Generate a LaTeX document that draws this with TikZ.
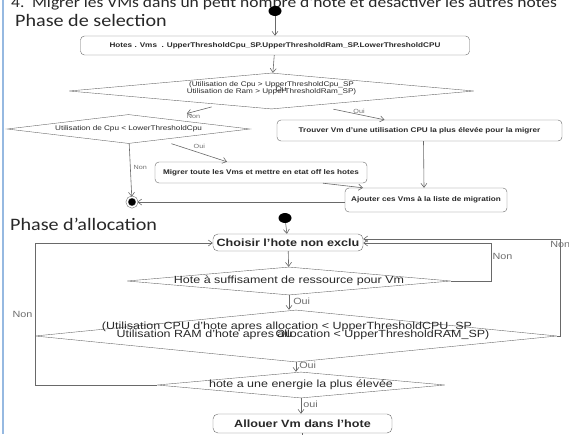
\documentclass[tikz,border=0pt]{standalone}
\usepackage{fontspec}
\setmainfont{Liberation Sans}[FakeStretch=1.2]
\newfontfamily\slidefont{Carlito}[FakeStretch=1.15]
\usetikzlibrary{shapes.geometric, arrows.meta, positioning, calc}

\definecolor{linegray}{RGB}{105,105,105}
\definecolor{textgray}{RGB}{40,40,40}
\definecolor{lblgray}{RGB}{110,110,110}
\definecolor{slideblue}{RGB}{150,185,225}

\begin{document}
\begin{tikzpicture}[
    x=1pt, y=-1pt,
    every node/.style={text=textgray},
    heading/.style={font=\slidefont\fontsize{17.5}{20}\selectfont, anchor=west, inner sep=0pt},
    act/.style={draw=linegray, rounded corners=4pt, inner sep=0pt, font=\bfseries\fontsize{6.8}{8}\selectfont},
    bigact/.style={act, rounded corners=5pt, font=\bfseries\fontsize{10.5}{12}\selectfont},
    decision/.style={draw=linegray, diamond, inner sep=0pt},
    dtext/.style={font=\fontsize{6.8}{6.5}\selectfont, align=center, inner sep=0pt},
    bigdtext/.style={font=\fontsize{10.4}{9}\selectfont, align=center, inner sep=0pt},
    lbl/.style={font=\fontsize{6}{7}\selectfont, text=lblgray, inner sep=1pt},
    biglbl/.style={lbl, font=\fontsize{9}{10}\selectfont},
    start/.style={ellipse, fill=black, inner sep=0pt, minimum width=13pt, minimum height=10pt},
    final/.style={circle, fill=black, draw=linegray, line width=0.5pt, double=white, double distance=1.5pt, inner sep=0pt, minimum size=10pt},
    arr/.style={-{Straight Barb[length=4pt, width=6pt]}, draw=linegray, line width=0.6pt}
  ]
  \useasboundingbox (0,0) rectangle (569,434);
  \clip (0,0) rectangle (569,434);
  \draw[slideblue, line width=1.5pt] (3,0) -- (3,434);

  % titres
  \node[heading, anchor=base west, font=\slidefont\fontsize{15.2}{17}\selectfont] (titre) at (11,7) {4.\enspace Migrer les VMs dans un petit nombre d'hote et désactiver les autres hotes};
  \node[heading] (phase1) at (15,20) {Phase de selection};
  \node[heading] (phase2) at (10,224) {Phase d’allocation};

  % phase de selection
  \node[start] (debut1) at (275,11) {};
  \node[act, minimum width=389pt, minimum height=19pt] (params) at (275,45.5) {Hotes . Vms\ \ . UpperThresholdCpu\_SP.UpperThresholdRam\_SP.LowerThresholdCPU};
  \node[decision, minimum width=405pt, minimum height=36pt,
        label={[dtext, yshift=3pt]center:{(Utilisation de Cpu > UpperThresholdCpu\_SP\\Utilisation de Ram > UpperThresholdRam\_SP)}},
        label={[dtext, xshift=9.5pt, yshift=2pt]center:Ou}] (surcharge) at (271.5,91) {};
  \node[decision, minimum width=243pt, minimum height=29pt,
        label={[dtext]center:Utilisation de Cpu < LowerThresholdCpu}] (souscharge) at (128.5,129) {};
  \node[act, minimum width=285pt, minimum height=21pt] (trouver) at (419.5,130.5) {Trouver Vm d'une utilisation CPU la plus élevée pour la migrer};
  \node[act, minimum width=212pt, minimum height=21pt] (migrer) at (261,172.5) {Migrer toute les Vms et mettre en etat off les hotes};
  \node[act, minimum width=162pt, minimum height=24pt] (ajouter) at (426,200) {Ajouter ces Vms à la liste de migration};
  \node[final] (fin1) at (132,202) {};

  \draw[arr] (debut1) -- (params);
  \draw[arr] (params) -- (surcharge);
  \draw[arr, shorten <=9pt, shorten >=21pt] (surcharge) -- node[lbl, below=1pt] {Non} (souscharge);
  \draw[arr] ([xshift=62pt]surcharge.south) -- node[lbl, above=0pt] {Oui} ([xshift=-35pt]trouver.north);
  \draw[arr] ([xshift=43pt]souscharge.south) -- node[lbl, above=3pt] {Oui} ([xshift=-34pt]migrer.north);
  \draw[arr] (souscharge) -- node[lbl, right=2pt, pos=0.45] {Non} (fin1);
  \draw[arr] ([xshift=62pt]migrer.south) -- ([xshift=-63pt]ajouter.north);
  \draw[arr] ([xshift=4pt]trouver.south) -- ([xshift=-2pt]ajouter.north);
  \draw[arr] (ajouter.west |- fin1) -- (fin1);

  % phase d'allocation
  \node[start] (debut2) at (285,218) {};
  \node[bigact, minimum width=150pt, minimum height=17pt] (choisir) at (288,242.5) {Choisir l'hote non exclu};
  \node[decision, minimum width=324pt, minimum height=28pt,
        label={[bigdtext]center:Hote à suffisament de ressource pour Vm}] (ressource) at (289,281) {};
  \node[decision, minimum width=522pt, minimum height=52pt,
        label={[bigdtext, xshift=-9pt, yshift=9.5pt]center:(Utilisation CPU d'hote apres allocation < UpperThresholdCPU\_SP},
        label={[bigdtext, xshift=7pt, yshift=1pt]center:Utilisation RAM d'hote apres allocation < UpperThresholdRAM\_SP)},
        label={[bigdtext, xshift=-12pt, yshift=2pt]center:Ou}] (seuils) at (296,336) {};
  \node[decision, minimum width=288pt, minimum height=26pt,
        label={[bigdtext]center:hote a une energie la plus élevée}] (energie) at (301,385) {};
  \node[bigact, minimum width=179pt, minimum height=19pt] (allouer) at (302.5,423.5) {Allouer Vm dans l'hote};
  \coordinate (suite) at (302.5,445);

  \draw[arr] (debut2) -- (choisir);
  \draw[arr] (choisir) -- (ressource);
  \draw[arr] (ressource.south) -- node[biglbl, right=3pt, pos=0.4] {Oui} (ressource.south |- seuils.north);
  \draw[arr] (seuils.south) -- node[biglbl, right=2pt, pos=0.3] {Oui} (seuils.south |- energie.north);
  \draw[arr] (energie.south) -- node[biglbl, right=1pt, pos=0.4] {oui} (energie.south |- allouer.north);
  \draw[linegray, line width=0.6pt] (allouer) -- (suite);
  \draw[arr] (ressource.east) -- ++(40,0) |- node[biglbl, pos=0.32, right=0pt] {Non} ([yshift=-0.5pt]choisir.east);
  \draw[arr] (seuils.east) -- ++(3,0) |- node[biglbl, pos=0.47] {Non} ([yshift=3.5pt]choisir.east);
  \draw[arr] (energie.west) -- ++(-122,0) |- node[biglbl, pos=0.25, left=1pt] {Non} ([yshift=-0.5pt]choisir.west);
\end{tikzpicture}
\end{document}
